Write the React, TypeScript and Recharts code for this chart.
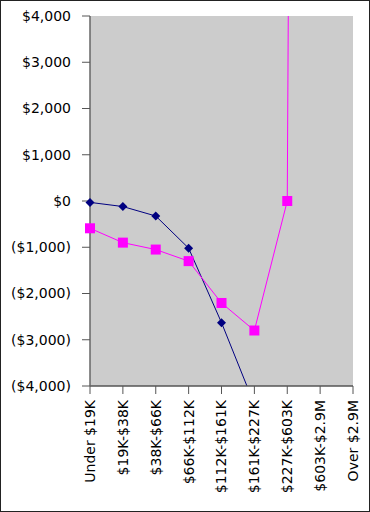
import React from 'react';
import { LineChart, Line, XAxis, YAxis, CartesianGrid } from 'recharts';

const brackets = [
  'Under $19K',
  '$19K-$38K',
  '$38K-$66K',
  '$66K-$112K',
  '$112K-$161K',
  '$161K-$227K',
  '$227K-$603K',
  '$603K-$2.9M',
  'Over $2.9M',
];
const navySeries = [-30, -120, -325, -1020, -2630, -4400, null, null, null];
const magentaSeries = [-590, -900, -1050, -1300, -2205, -2800, 0, 130000, null];
const yTicks = [-4000, -3000, -2000, -1000, 0, 1000, 2000, 3000, 4000];

const data = brackets.map((b, i) => ({ name: b, navy: navySeries[i], magenta: magentaSeries[i] }));

const FONT = 'DejaVu Sans, sans-serif';

const fmtMoney = (v: number) => {
  const s = '$' + Math.abs(v).toLocaleString('en-US');
  return v < 0 ? `(${s})` : s;
};

const Diamond = (props: any) => {
  const { cx, cy } = props;
  if (cx == null || cy == null) return <g />;
  const r = 4.5;
  return (
    <path
      d={`M${cx},${cy - r} L${cx + r},${cy} L${cx},${cy + r} L${cx - r},${cy} Z`}
      fill="#000080"
      stroke="none"
    />
  );
};

const Square = (props: any) => {
  const { cx, cy } = props;
  if (cx == null || cy == null) return <g />;
  return <rect x={cx - 5} y={cy - 5} width={10} height={10} fill="#ff00ff" stroke="none" />;
};

const RotatedTick = (props: any) => {
  const { x, y, payload } = props;
  return (
    <text
      x={x}
      y={y}
      dy="0.35em"
      transform={`rotate(-90 ${x} ${y})`}
      textAnchor="end"
      fill="#000"
      fontSize={14}
      fontFamily={FONT}
    >
      {payload.value}
    </text>
  );
};

export default function App() {
  return (
    <div
      style={{
        position: 'absolute',
        left: 0,
        top: 0,
        width: 370,
        height: 512,
        border: '1px solid #222',
        boxSizing: 'border-box',
        background: '#fff',
      }}
    >
      <div style={{ position: 'absolute', left: -1, top: -1 }}>
        <LineChart width={370} height={512} data={data} margin={{ top: 16, right: 17, left: 0, bottom: 0 }}>
          <CartesianGrid horizontal={false} vertical={false} fill="#cccccc" />
          <XAxis
            dataKey="name"
            height={126}
            interval={0}
            tickSize={8}
            tickMargin={6}
            tick={<RotatedTick />}
            axisLine={{ stroke: '#555', strokeWidth: 1.5 }}
            tickLine={{ stroke: '#555' }}
          />
          <XAxis
            xAxisId="top"
            dataKey="name"
            orientation="top"
            height={0}
            tick={false}
            tickLine={false}
            axisLine={{ stroke: '#888', strokeWidth: 1.5 }}
          />
          <YAxis
            width={90}
            domain={[-4000, 4000]}
            ticks={yTicks}
            allowDataOverflow
            interval={0}
            tickSize={8}
            tickMargin={11}
            tickFormatter={fmtMoney}
            tick={{ fill: '#000', fontSize: 14, fontFamily: FONT }}
            axisLine={{ stroke: '#666', strokeWidth: 1.5 }}
            tickLine={{ stroke: '#555' }}
          />
          <YAxis
            yAxisId="right"
            orientation="right"
            width={0}
            domain={[-4000, 4000]}
            tick={false}
            tickLine={false}
            axisLine={{ stroke: '#888', strokeWidth: 1.5 }}
          />
          <Line
            type="linear"
            dataKey="navy"
            stroke="#000080"
            strokeWidth={1}
            dot={<Diamond />}
            activeDot={false}
            connectNulls={false}
            isAnimationActive={false}
          />
          <Line
            type="linear"
            dataKey="magenta"
            stroke="#ff00ff"
            strokeWidth={1}
            dot={<Square />}
            activeDot={false}
            connectNulls={false}
            isAnimationActive={false}
          />
        </LineChart>
      </div>
    </div>
  );
}
